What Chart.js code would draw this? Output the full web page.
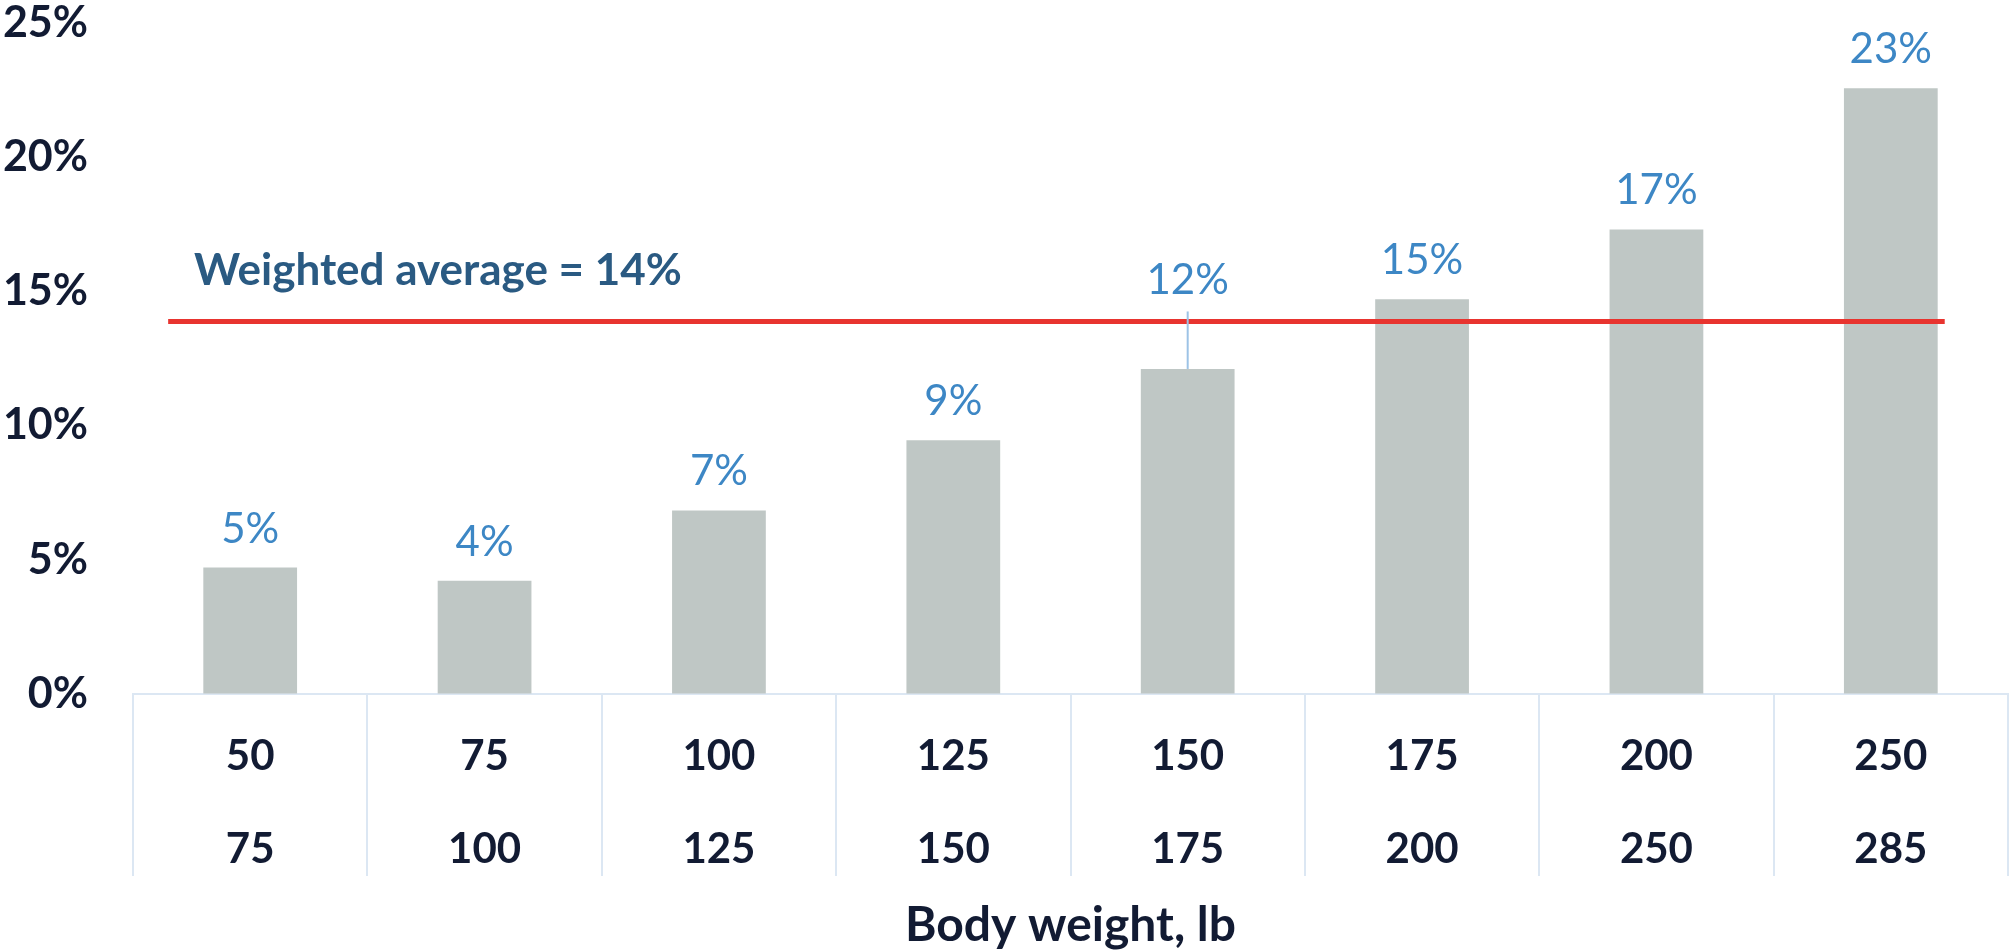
<!DOCTYPE html>
<html lang="en">
<head>
  <meta charset="UTF-8" />
  <meta name="viewport" content="width=device-width, initial-scale=1.0" />
  <title>Share by body weight</title>
  <script src="https://cdn.jsdelivr.net/npm/chart.js"></script>
  <style>
    html, body {
      margin: 0;
      padding: 0;
      background: #fff;
    }
  </style>
</head>
<body>
  <canvas id="chart" width="2010" height="952"></canvas>

  <script>
    // body weight bands (lb): lower and upper bound
    const rangeFrom = ['50', '75', '100', '125', '150', '175', '200', '250'];
    const rangeTo = ['75', '100', '125', '150', '175', '200', '250', '285'];
    // bar heights (%)
    const shares = [4.71, 4.22, 6.84, 9.45, 12.11, 14.71, 17.31, 22.57];
    const shareLabels = ['5%', '4%', '7%', '9%', '12%', '15%', '17%', '23%'];
    const weightedAverage = 13.88;
    const averageText = 'Weighted average = 14%';
    const axisTitle = 'Body weight, lb';

    const darkText = '#121B33';
    const paleBlue = '#DCE7F3';

    // red average line, its caption, and the value labels over the bars
    const overlay = {
      id: 'overlay',
      afterDatasetsDraw(chart) {
        const { ctx } = chart;
        const x = chart.scales.x;
        const y = chart.scales.y;
        const lineY = y.getPixelForValue(weightedAverage);

        ctx.save();
        ctx.strokeStyle = '#E8342F';
        ctx.lineWidth = 5;
        ctx.beginPath();
        ctx.moveTo(x.getPixelForValue(-0.35), lineY);
        ctx.lineTo(x.getPixelForValue(7.23), lineY);
        ctx.stroke();

        ctx.font = 'bold 44px Lato';
        ctx.fillStyle = '#2A5A82';
        ctx.textAlign = 'left';
        ctx.textBaseline = 'alphabetic';
        ctx.fillText(averageText, x.getPixelForValue(-0.24), lineY - 36);

        ctx.font = '42px Lato';
        ctx.fillStyle = '#3D87C5';
        ctx.textAlign = 'center';
        chart.getDatasetMeta(0).data.forEach((bar, i) => {
          let base = bar.y - 25;
          // lift the label above the average line when they would overlap
          if (bar.y > lineY && base - 30 < lineY + 3) {
            base = lineY - 27;
            ctx.strokeStyle = '#9DC3E6';
            ctx.lineWidth = 2;
            ctx.beginPath();
            ctx.moveTo(bar.x, lineY - 10);
            ctx.lineTo(bar.x, bar.y);
            ctx.stroke();
          }
          ctx.fillText(shareLabels[i], bar.x, base);
        });
        ctx.restore();
      }
    };

    Chart.defaults.font.family = 'Lato';

    new Chart(document.getElementById('chart').getContext('2d'), {
      type: 'bar',
      data: {
        labels: rangeFrom.map((f, i) => [f, rangeTo[i]]),
        datasets: [{
          data: shares,
          backgroundColor: '#BFC7C5',
          barPercentage: 0.4,
          categoryPercentage: 1
        }]
      },
      options: {
        responsive: false,
        animation: false,
        layout: { padding: { top: 23, right: 2, left: 0, bottom: 0 } },
        plugins: {
          legend: { display: false },
          tooltip: { enabled: false }
        },
        scales: {
          x: {
            grid: {
              offset: true,
              drawOnChartArea: false,
              drawTicks: true,
              tickLength: 182,
              color: paleBlue,
              lineWidth: 2
            },
            border: { display: true, color: paleBlue, width: 2 },
            ticks: {
              padding: -166,
              maxRotation: 0,
              autoSkip: false,
              color: darkText,
              font: { size: 42, weight: 'bold', lineHeight: 93 / 42 }
            },
            title: {
              display: true,
              text: axisTitle,
              color: darkText,
              padding: { top: 0, bottom: 0 },
              font: { size: 48, weight: 'bold', lineHeight: 52 / 48 }
            },
            afterFit(scale) { scale.height = 258; }
          },
          y: {
            min: 0,
            max: 25,
            // invisible tick marks keep the labels clear of the bars
            grid: {
              drawOnChartArea: false,
              drawTicks: true,
              tickLength: 45,
              color: 'rgba(0,0,0,0)'
            },
            border: { display: false },
            ticks: {
              stepSize: 5,
              padding: 0,
              color: darkText,
              font: { size: 43, weight: 'bold', lineHeight: 1 },
              callback: v => v + '%'
            },
            afterFit(scale) { scale.width = 133; }
          }
        }
      },
      plugins: [overlay]
    });
  </script>
</body>
</html>
